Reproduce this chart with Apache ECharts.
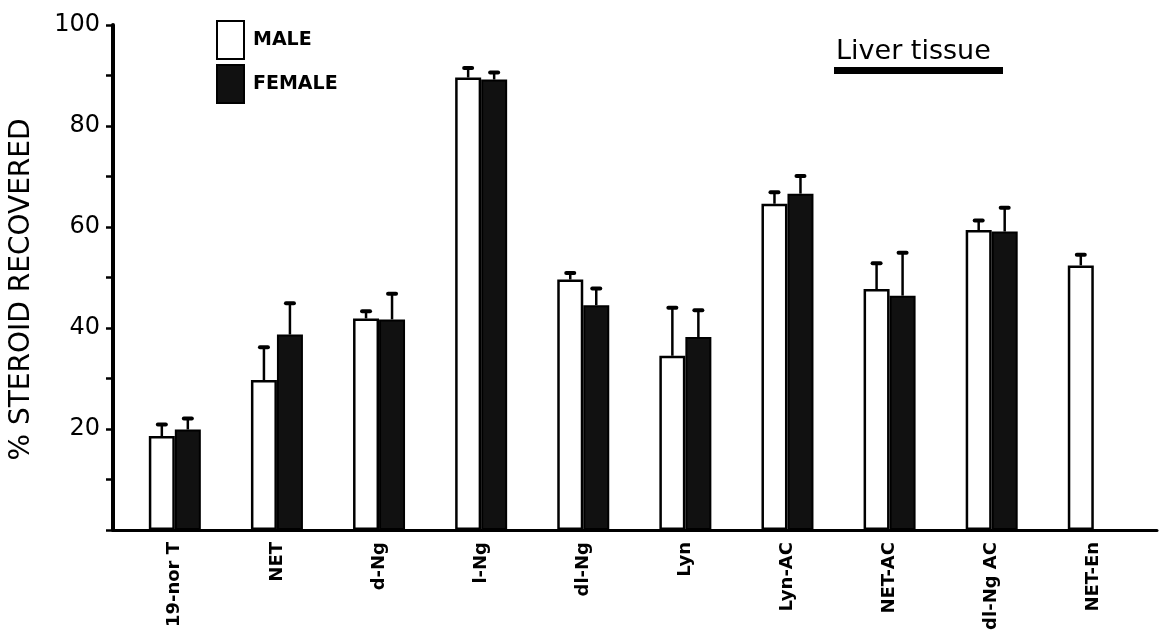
<!DOCTYPE html>
<html>
<head>
<meta charset="utf-8">
<script src="https://cdn.jsdelivr.net/npm/echarts@6/dist/echarts.min.js"></script>
<style>
html,body{margin:0;padding:0;background:#fff;}
#chart{width:1159px;height:642px;}
</style>
</head>
<body>
<div id="chart"></div>
<script>
// ---- data ----
var categories = ['19-nor T', 'NET', 'd-Ng', 'l-Ng', 'dl-Ng', 'Lyn', 'Lyn-AC', 'NET-AC', 'dl-Ng AC', 'NET-En'];
var maleValues   = [18.6, 29.7, 41.9, 89.6, 49.6, 34.5, 64.6, 47.7, 59.4, 52.4];
var maleErrTop   = [21.0, 36.3, 43.4, 91.6, 51.0, 44.1, 67.0, 52.9, 61.4, 54.6];
var femaleValues = [19.9, 38.7, 41.7, 89.2, 44.5, 38.2, 66.6, 46.4, 59.1, null];
var femaleErrTop = [22.2, 45.0, 46.9, 90.7, 47.9, 43.6, 70.2, 55.0, 63.9, null];
var yTickLabels  = [20, 40, 60, 80, 100];

var BAR_W = 26;
var FONT = 'DejaVu Sans';

function pairs(vals) {
  return vals.map(function (v, i) { return v == null ? null : [i, v]; }).filter(function (d) { return d; });
}
function errPairs(vals, tops) {
  return vals.map(function (v, i) { return v == null ? null : [i, v, tops[i]]; }).filter(function (d) { return d; });
}
function errRenderer(offset) {
  return function (params, api) {
    var base = api.coord([api.value(0), api.value(1)]);
    var top = api.coord([api.value(0), api.value(2)]);
    var x = base[0] + offset;
    return {
      type: 'group',
      children: [
        { type: 'line', shape: { x1: x, y1: base[1], x2: x, y2: top[1] + 1 },
          style: { stroke: '#000', lineWidth: 2.5 } },
        { type: 'rect', shape: { x: x - 6, y: top[1] - 1.5, width: 12, height: 4, r: 2 },
          style: { fill: '#000' } }
      ]
    };
  };
}

var chart = echarts.init(document.getElementById('chart'), null, { renderer: 'canvas' });
chart.setOption({
  backgroundColor: '#fff',
  animation: false,
  title: {
    text: 'Liver tissue',
    left: 831, top: 33,
    textStyle: { fontFamily: FONT, fontSize: 27, fontWeight: 'normal', color: '#000' }
  },
  graphic: [
    { type: 'rect', shape: { x: 834, y: 67, width: 169, height: 7 }, style: { fill: '#000' } }
  ],
  legend: {
    orient: 'vertical',
    left: 211, top: 15,
    itemWidth: 27, itemHeight: 38, itemGap: 4,
    icon: 'rect',
    textStyle: { fontFamily: FONT, fontSize: 19, fontWeight: 'bold', color: '#000', padding: [0, 0, 0, 4] },
    data: ['MALE', 'FEMALE']
  },
  grid: { left: 110, right: 2, top: 25, bottom: 112, containLabel: false },
  xAxis: {
    type: 'value',
    min: -0.6055, max: 9.619,
    splitLine: { show: false },
    axisTick: { show: false },
    axisLine: { show: true, onZero: false, lineStyle: { color: '#000', width: 3 } },
    axisLabel: {
      customValues: categories.map(function (c, i) { return i; }),
      formatter: function (v) { return categories[Math.round(v)]; },
      rotate: 90, margin: 12,
      fontFamily: FONT, fontSize: 18, fontWeight: 'bold', color: '#000'
    }
  },
  yAxis: {
    type: 'value',
    min: 0, max: 100, interval: 10,
    name: '% STEROID RECOVERED',
    nameLocation: 'middle', nameGap: 77,
    nameTextStyle: { fontFamily: FONT, fontSize: 28, color: '#000', padding: [0, 24, 0, 0] },
    splitLine: { show: false },
    axisLine: { show: true, onZero: false, lineStyle: { color: '#000', width: 4 } },
    axisTick: { show: true, length: 7, lineStyle: { color: '#000', width: 2.5 } },
    axisLabel: {
      customValues: yTickLabels,
      margin: 13,
      fontFamily: FONT, fontSize: 24, color: '#000'
    }
  },
  series: [
    {
      name: 'MALE', type: 'bar', data: pairs(maleValues),
      barWidth: BAR_W, barGap: '0%',
      itemStyle: { color: '#fff', borderColor: '#000', borderWidth: 2.5 }
    },
    {
      name: 'FEMALE', type: 'bar', data: pairs(femaleValues),
      barWidth: BAR_W, barGap: '0%',
      itemStyle: { color: '#111', borderColor: '#000', borderWidth: 2 }
    },
    {
      type: 'custom', data: errPairs(maleValues, maleErrTop),
      renderItem: errRenderer(-BAR_W / 2), z: 3, silent: true
    },
    {
      type: 'custom', data: errPairs(femaleValues, femaleErrTop),
      renderItem: errRenderer(BAR_W / 2), z: 3, silent: true
    }
  ]
});
</script>
</body>
</html>
